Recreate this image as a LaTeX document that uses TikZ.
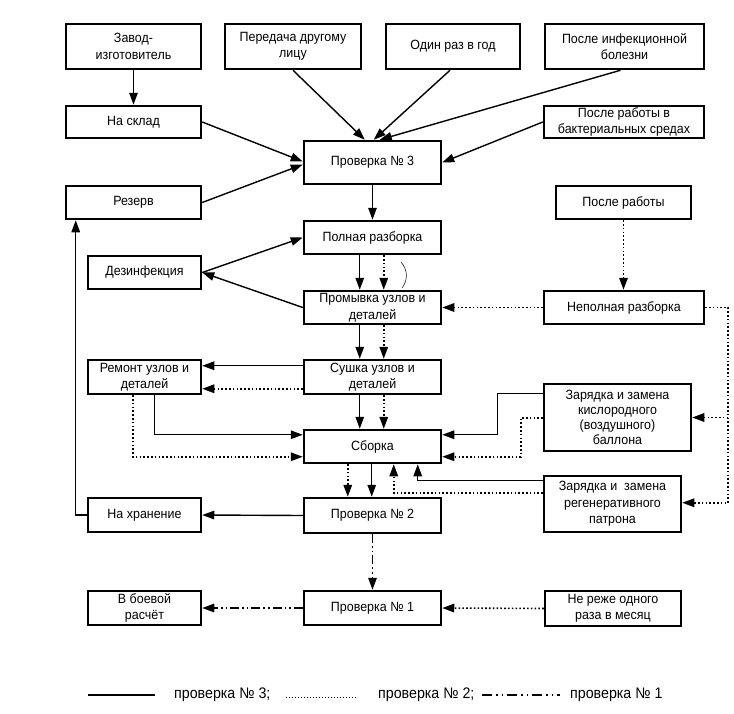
\documentclass[tikz,border=0pt]{standalone}
\usepackage{fontspec}
\setmainfont{Liberation Sans}[FakeStretch=0.93]
\usetikzlibrary{arrows.meta,calc}
\begin{document}
\begin{tikzpicture}[x=1pt,y=-1pt,
  box/.style={draw,line width=2.5pt,inner sep=1pt,align=center,font=\fontsize{13.4}{16.5}\selectfont},
  p3/.style={line width=1.4pt},
  p2/.style={line width=1.6pt,dash pattern=on 1.6pt off 2.2pt},
  p1/.style={line width=1.5pt,dash pattern=on 9pt off 3pt on 1.6pt off 3pt on 1.6pt off 3pt},
  arr/.style={-{Triangle[length=12pt,width=8.5pt]}},
  leg/.style={anchor=west,inner sep=0pt,font=\fontsize{15.3}{18}\selectfont}
]
\useasboundingbox[fill=white] (0,0) rectangle (734,713);

% boxes
\node[box,minimum width=135pt,minimum height=45pt] (zavod) at (133.5,46.5) {Завод-\\изготовитель};
\node[box,minimum width=136pt,minimum height=45pt] (peredacha) at (293,46.5) {Передача другому\\лицу};
\node[box,minimum width=134pt,minimum height=45pt] (odin) at (453,46.5) {Один раз в год};
\node[box,minimum width=159pt,minimum height=45pt] (posleinf) at (624.5,46.5) {После инфекционной\\болезни};
\node[box,minimum width=135pt,minimum height=32pt] (nasklad) at (133.5,122) {На склад};
\node[box,minimum width=135pt,minimum height=33pt] (rezerv) at (133.5,202.5) {Резерв};
\node[box,minimum width=137pt,minimum height=43pt] (pr3) at (372.5,162.5) {Проверка № 3};
\node[box,minimum width=160pt,minimum height=32pt] (bakt) at (624,122) {После работы в\\бактериальных средах};
\node[box,minimum width=135pt,minimum height=33pt] (posleraboty) at (623.5,202.5) {После работы};
\node[box,minimum width=137pt,minimum height=33pt] (polnaya) at (372.5,237.5) {Полная разборка};
\node[box,minimum width=113pt,minimum height=33pt] (dez) at (144.5,272.5) {Дезинфекция};
\node[box,minimum width=137pt,minimum height=33pt] (promyvka) at (372.5,307.5) {Промывка узлов и\\деталей};
\node[box,minimum width=160pt,minimum height=33pt] (nepoln) at (624,307.5) {Неполная разборка};
\node[box,minimum width=113pt,minimum height=34pt] (remont) at (144.5,377) {Ремонт узлов и\\деталей};
\node[box,minimum width=137pt,minimum height=34pt] (sushka) at (372.5,377) {Сушка узлов и\\деталей};
\node[box,minimum width=137pt,minimum height=33pt] (sborka) at (372.5,446.5) {Сборка};
\node[box,minimum width=147pt,minimum height=67pt,font=\fontsize{13.4}{15}\selectfont] (kislor) at (617.5,417.5) {Зарядка и замена\\кислородного\\(воздушного)\\баллона};
\node[box,minimum width=137pt,minimum height=35pt] (pr2) at (372.5,515.5) {Проверка № 2};
\node[box,minimum width=113pt,minimum height=34pt] (khran) at (144.5,515) {На хранение};
\node[box,minimum width=137pt,minimum height=56pt] (regen) at (612.5,504) {Зарядка и\ \ замена\\регенеративного\\патрона};
\node[box,minimum width=137pt,minimum height=34pt] (pr1) at (372.5,608) {Проверка № 1};
\node[box,minimum width=113pt,minimum height=34pt] (boevoy) at (144.5,608) {В боевой\\расчёт};
\node[box,minimum width=136pt,minimum height=35pt] (nerezhe) at (613,608.5) {Не реже одного\\раза в месяц};

% solid connectors (check No 3)
\draw[p3,arr] (zavod.south) -- (nasklad.north);
\draw[p3,arr] (peredacha.south) -- ($(pr3.north west)+(62,0)$);
\draw[p3,arr] ($(odin.south)+(-3,0)$) -- ($(pr3.north west)+(71,0)$);
\draw[p3,arr] ($(posleinf.south)+(-4,0)$) -- ($(pr3.north west)+(77,0)$);
\draw[p3,arr] (nasklad.east) -- ($(pr3.west)+(0,-1)$);
\draw[p3,arr] (rezerv.east) -- ($(pr3.west)+(0,2)$);
\draw[p3,arr] (bakt.west) -- (pr3.east);
\draw[p3,arr] (pr3.south) -- (polnaya.north);
\draw[p3,arr] (dez.east) -- (polnaya.west);
\draw[p3,arr] (promyvka.west) -- (dez.east);
\draw[p3,arr] ($(polnaya.south west)+(57,0)$) -- ($(promyvka.north west)+(57,0)$);
\draw[p3,arr] ($(promyvka.south west)+(57,0)$) -- ($(sushka.north west)+(57,0)$);
\draw[p3,arr] ($(sushka.south west)+(57,0)$) -- ($(sborka.north west)+(57,0)$);
\draw[p3,arr] ($(sushka.north west)+(0,7)$) -- ($(remont.north east)+(0,7)$);
\draw[p3,arr] ($(remont.south west)+(68,0)$) |- ($(sborka.north west)+(0,6)$);
\draw[p3,arr] ($(kislor.north west)+(0,11)$) -- ++(-45,0) |- ($(sborka.north east)+(0,6)$);
\draw[p3,arr] ($(sborka.south west)+(69,0)$) -- ($(pr2.north west)+(69,0)$);
\draw[p3,arr] ($(regen.north west)+(0,6)$) -| ($(sborka.south west)+(115,0)$);
\draw[p3,arr] (pr2.west) -- (khran.east);
\draw[p3,arr] (khran.west) -| ($(rezerv.south west)+(11,0)$);

% dotted connectors (check No 2)
\draw[p2,arr] ($(polnaya.south west)+(81,0)$) -- ($(promyvka.north west)+(81,0)$);
\draw[p2,arr] ($(promyvka.south west)+(81,0)$) -- ($(sushka.north west)+(81,0)$);
\draw[p2,arr] ($(sushka.south west)+(81,0)$) -- ($(sborka.north west)+(81,0)$);
\draw[p2,arr] ($(sushka.north west)+(0,30)$) -- ($(remont.north east)+(0,30)$);
\draw[p2,arr] ($(remont.south west)+(46,0)$) |- ($(sborka.north west)+(0,28)$);
\draw[p2,arr] ($(kislor.north west)+(0,35)$) -- ++(-22,0) |- ($(sborka.north east)+(0,28)$);
\draw[p2,arr] (nepoln.west) -- (promyvka.east);
\draw[p2,arr] (posleraboty.south) -- (posleraboty.south |- nepoln.north);
\coordinate (rt) at ($(nepoln.east)+(23,0)$);
\draw[p2,arr] (nepoln.east) -- (rt) |- ($(regen.north east)+(0,28)$);
\draw[p2,arr] (rt |- kislor.east) -- (kislor.east);
\draw[p2,arr] ($(sborka.south west)+(45,0)$) -- ($(pr2.north west)+(45,0)$);
\draw[p2,arr] ($(regen.north west)+(0,18)$) -| ($(sborka.south west)+(91,0)$);
\draw[p2,arr] (nerezhe.west) -- (pr1.east);

% dash-dot connectors (check No 1)
\draw[p1,arr] (pr2.south) -- (pr1.north);
\draw[p1,arr] (pr1.west) -- (boevoy.east);

% thin arc
\draw[line width=0.5pt] (401,262) .. controls (408,270) and (408,280) .. (402,288);

% legend
\coordinate (la) at (88,695);
\coordinate (lb) at (155,695);
\draw[p3] (la) -- (lb);
\node[leg] (t3) at (174,695) {проверка № 3;};
\coordinate (lc) at (286,697);
\coordinate (ld) at (358,697);
\draw[line width=1pt,dash pattern=on 1pt off 2pt] (lc) -- (ld);
\node[leg] (t2) at (378,695) {проверка № 2;};
\coordinate (le) at (482,695);
\coordinate (lf) at (560,695);
\draw[line width=1.4pt,dash pattern=on 10pt off 4pt on 1.5pt off 4pt on 1.5pt off 4pt] (le) -- (lf);
\node[leg] (t1) at (570,695) {проверка № 1};
\end{tikzpicture}
\end{document}
